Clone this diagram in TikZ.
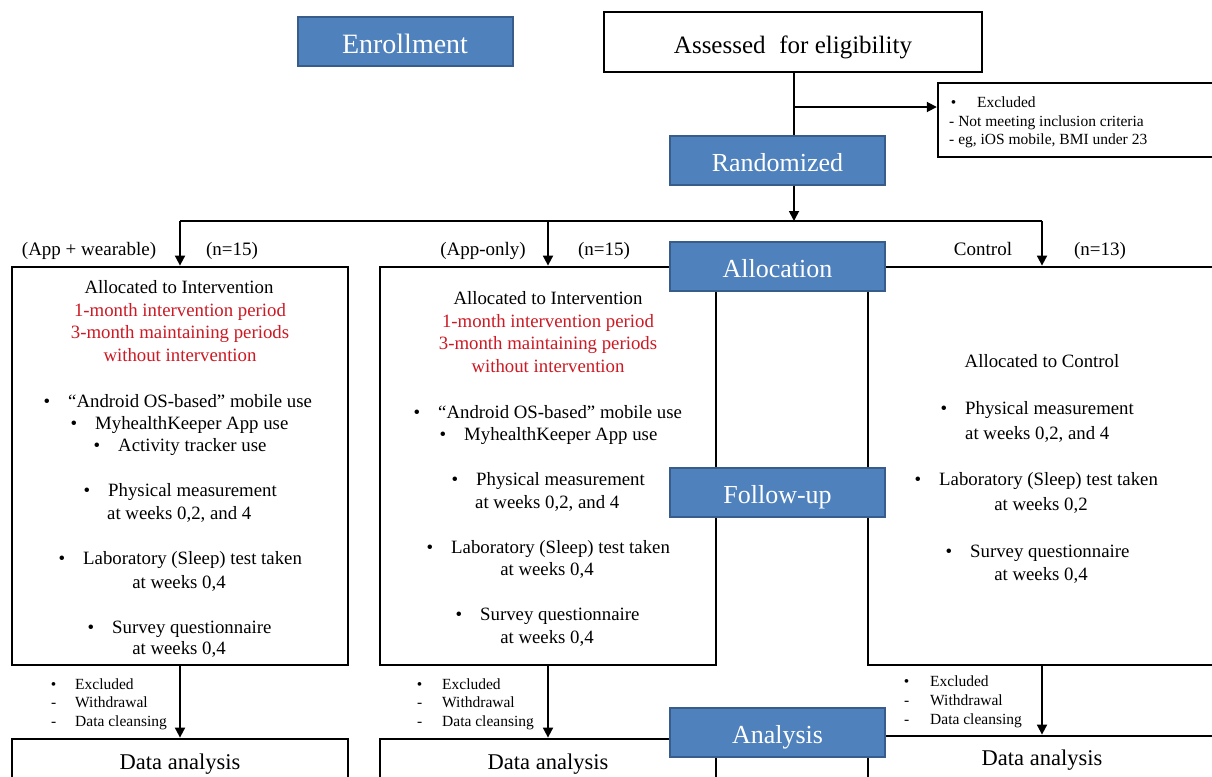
\documentclass[tikz,border=0pt]{standalone}
\usepackage{fontspec}
\setmainfont{Liberation Serif}
\usetikzlibrary{arrows.meta}
\definecolor{hdrblue}{RGB}{79,129,189}
\definecolor{hdredge}{RGB}{56,93,138}
\definecolor{redtxt}{RGB}{205,25,35}
\newcommand{\mybul}[1]{\llap{\textbullet\hspace{#1pt}}}
\newcommand{\mydash}[1]{\llap{-\hspace{#1pt}}}
\begin{document}
\begin{tikzpicture}[x=1pt,y=-1pt,
  hdr/.style={draw=hdredge, fill=hdrblue, line width=2pt, text=white,
    font=\fontsize{26}{30}\selectfont, minimum width=215pt, minimum height=49pt, inner sep=0pt,
    text height=22pt, text depth=0pt},
  bx/.style={draw=black, line width=2.8pt, inner sep=0pt},
  ln/.style={line width=1.8pt},
  arr/.style={ln, -{Triangle[length=10pt,width=10pt]}},
  tx/.style={font=\fontsize{18.8}{22}\selectfont, inner sep=0pt, text height=13pt, text depth=0pt},
  rd/.style={tx, text=redtxt},
  sm/.style={font=\fontsize{15.5}{18}\selectfont, inner sep=0pt, text height=10.5pt, text depth=1pt},
  lb/.style={font=\fontsize{19}{22}\selectfont, inner sep=0pt, text height=13pt, text depth=0pt},
  da/.style={font=\fontsize{22.5}{26}\selectfont, inner sep=0pt, text height=15.5pt, text depth=1pt}
]
\clip (0,0) rectangle (1212,776);
\fill[white] (0,0) rectangle (1212,776);

% black boxes
\node[bx, minimum width=378pt, minimum height=60pt, font=\fontsize{25}{30}\selectfont,
  text height=22pt, text depth=0pt] (assess) at (793,42) {Assessed\hspace{0.3em} for eligibility};
\node[bx, line width=2.4pt, minimum width=282pt, minimum height=74pt] (excl) at (1079,120) {};
\node[bx, minimum width=336pt, minimum height=398pt] (b1) at (180,466) {};
\node[bx, minimum width=336pt, minimum height=398pt] (b2) at (548,466) {};
\node[bx, minimum width=352pt, minimum height=398pt] (b3) at (1044,466) {};
\node[bx, minimum width=336pt, minimum height=80pt] (d1) at (180,779) {};
\node[bx, minimum width=336pt, minimum height=80pt] (d2) at (548,779) {};
\node[bx, minimum width=352pt, minimum height=80pt] (d3) at (1044,776) {};

% connector points
\coordinate (brk) at (794,107);
\coordinate (hL) at (180,221);
\coordinate (hM) at (548,221);
\coordinate (hC) at (794,221);
\coordinate (hR) at (1042,221);
\coordinate (a3) at (1042,665);

% header boxes
\node[hdr, font=\fontsize{28}{32}\selectfont] (enroll) at (405,42) {Enrollment};
\node[hdr] (rand) at (777.5,160) {Randomized};

% connectors
\draw[ln] (assess.south -| brk) -- (brk) -- (brk |- rand.north);
\draw[arr] (brk) -- (excl.west |- brk);
\draw[arr] (rand.south -| hC) -- (hC);
\draw[ln] (hL) -- (hR);
\draw[arr] (hL) -- (b1.north);
\draw[arr] (hM) -- (b2.north);
\draw[arr] (hR) -- (hR |- b3.north);
\draw[arr] (b1.south) -- (d1.north);
\draw[arr] (b2.south) -- (d2.north);
\draw[arr] (a3) -- (a3 |- d3.north);

\node[hdr] (alloc) at (777.5,266) {Allocation};
\node[hdr] (follow) at (777.5,492.5) {Follow-up};
\node[hdr] (anal) at (777.5,732.5) {Analysis};

% top excluded text
\node[sm, anchor=west] (e0a) at (977,103) {\mybul{21}Excluded};
\node[sm, anchor=west] (e0b) at (949,122) {- Not meeting inclusion criteria};
\node[sm, anchor=west] (e0c) at (949,140) {- eg, iOS mobile, BMI under 23};

% branch labels
\node[lb] (l1) at (89,249) {(App + wearable)};
\node[lb] (l2) at (232,249) {(n=15)};
\node[lb] (l3) at (483,249) {(App-only)};
\node[lb] (l4) at (604,249) {(n=15)};
\node[lb] (l5) at (983,249) {Control};
\node[lb] (l6) at (1100,249) {(n=13)};

% box 1
\node[tx] (t1a) at (179,287) {Allocated to Intervention};
\node[rd] (t1b) at (180,310) {1-month intervention period};
\node[rd] (t1c) at (180,332) {3-month maintaining periods};
\node[rd] (t1d) at (180,355) {without intervention};
\node[tx, anchor=west] (t1e) at (68,401) {\mybul{18}“Android OS-based” mobile use};
\node[tx, anchor=west] (t1f) at (95,423) {\mybul{18}MyhealthKeeper App use};
\node[tx, anchor=west] (t1g) at (118,445) {\mybul{18}Activity tracker use};
\node[tx, anchor=west] (t1h) at (108,490) {\mybul{18}Physical measurement};
\node[tx, anchor=west] (t1i) at (107,513) {at weeks 0,2, and 4};
\node[tx, anchor=west] (t1j) at (83,558) {\mybul{18}Laboratory (Sleep) test taken};
\node[tx] (t1k) at (179,582) {at weeks 0,4};
\node[tx, anchor=west] (t1l) at (112,627) {\mybul{18}Survey questionnaire};
\node[tx] (t1m) at (179,648) {at weeks 0,4};

% box 2
\node[tx] (t2a) at (548,298) {Allocated to Intervention};
\node[rd] (t2b) at (548,321) {1-month intervention period};
\node[rd] (t2c) at (548,343) {3-month maintaining periods};
\node[rd] (t2d) at (548,366) {without intervention};
\node[tx, anchor=west] (t2e) at (438,412) {\mybul{18}“Android OS-based” mobile use};
\node[tx, anchor=west] (t2f) at (464,434) {\mybul{18}MyhealthKeeper App use};
\node[tx, anchor=west] (t2h) at (476,479) {\mybul{18}Physical measurement};
\node[tx, anchor=west] (t2i) at (475,502) {at weeks 0,2, and 4};
\node[tx, anchor=west] (t2j) at (451,547) {\mybul{18}Laboratory (Sleep) test taken};
\node[tx] (t2k) at (547,569) {at weeks 0,4};
\node[tx, anchor=west] (t2l) at (480,614) {\mybul{18}Survey questionnaire};
\node[tx] (t2m) at (547,637) {at weeks 0,4};

% box 3
\node[tx] (t3a) at (1042,361) {Allocated to Control};
\node[tx, anchor=west] (t3h) at (965,408) {\mybul{18}Physical measurement};
\node[tx, anchor=west] (t3i) at (965,433) {at weeks 0,2, and 4};
\node[tx, anchor=west] (t3j) at (939,479) {\mybul{18}Laboratory (Sleep) test taken};
\node[tx] (t3k) at (1041,504) {at weeks 0,2};
\node[tx, anchor=west] (t3l) at (970,551) {\mybul{18}Survey questionnaire};
\node[tx] (t3m) at (1041,574) {at weeks 0,4};

% lower excluded
\node[sm, anchor=west] (x1a) at (75,685) {\mybul{19}Excluded};
\node[sm, anchor=west] (x1b) at (75,703) {\mydash{19}Withdrawal};
\node[sm, anchor=west] (x1c) at (75,722) {\mydash{19}Data cleansing};
\node[sm, anchor=west] (x2a) at (442,685) {\mybul{20}Excluded};
\node[sm, anchor=west] (x2b) at (442,703) {\mydash{20}Withdrawal};
\node[sm, anchor=west] (x2c) at (442,722) {\mydash{20}Data cleansing};
\node[sm, anchor=west] (x3a) at (930,682) {\mybul{21}Excluded};
\node[sm, anchor=west] (x3b) at (930,701) {\mydash{21}Withdrawal};
\node[sm, anchor=west] (x3c) at (930,720) {\mydash{21}Data cleansing};

% data analysis
\node[da] (da1) at (180,762) {Data analysis};
\node[da] (da2) at (548,762) {Data analysis};
\node[da] (da3) at (1042,758) {Data analysis};
\end{tikzpicture}
\end{document}
